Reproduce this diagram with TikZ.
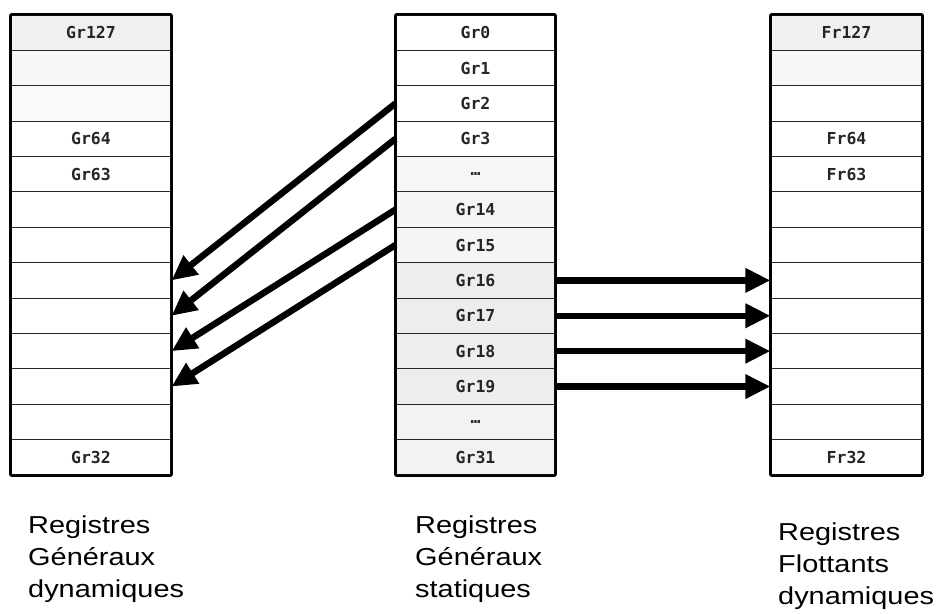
\documentclass[tikz,border=0pt]{standalone}
\usepackage{fontspec}
\setmainfont{Liberation Sans}
\newfontfamily\cellfont{DejaVu Sans Mono}
\newfontfamily\labfont[FakeStretch=1.18]{Liberation Sans}
\usetikzlibrary{arrows.meta}
\begin{document}
\begin{tikzpicture}[x=1pt,y=-1pt,
  cell/.style={draw=black!85, line width=1.1pt, minimum height=35.4pt, inner sep=0pt,
    font=\cellfont\bfseries\fontsize{16.5}{16.5}\selectfont, text=black!85},
  lab/.style={anchor=base west, inner sep=0pt, font=\labfont\fontsize{24.5}{24.5}\selectfont},
  bigarrow/.style={line width=6.5pt, -{Triangle[length=25pt,width=23pt]}},
  frame/.style={draw=black, line width=2.6pt, rounded corners=1pt}]
\useasboundingbox (0,0) rectangle (941,613);
\def\h{35.385}
% left column
\foreach \t/\f [count=\i] in {Gr127/gray!12,{}/gray!6,{}/gray!5,Gr64/white,Gr63/white,{}/white,{}/white,{}/white,{}/white,{}/white,{}/white,{}/white,Gr32/white}{
  \node[cell, minimum width=160pt, fill=\f] (L\i) at (91,{15+(\i-0.5)*\h}) {\t};
}
% middle column
\foreach \t/\f [count=\i] in {Gr0/white,Gr1/white,Gr2/white,Gr3/white,{…}/gray!6,Gr14/gray!8,Gr15/gray!8,Gr16/gray!14,Gr17/gray!14,Gr18/gray!14,Gr19/gray!14,{…}/gray!10,Gr31/gray!10}{
  \node[cell, minimum width=159pt, fill=\f] (M\i) at (475.5,{15+(\i-0.5)*\h}) {\t};
}
% right column
\foreach \t/\f [count=\i] in {Fr127/gray!12,{}/gray!6,{}/white,Fr64/white,Fr63/white,{}/white,{}/white,{}/white,{}/white,{}/white,{}/white,{}/white,Fr32/white}{
  \node[cell, minimum width=151pt, fill=\f] (R\i) at (846.5,{15+(\i-0.5)*\h}) {\t};
}
\draw[frame] (L1.north west) rectangle (L13.south east);
\draw[frame] (M1.north west) rectangle (M13.south east);
\draw[frame] (R1.north west) rectangle (R13.south east);
% arrows to the left
\draw[bigarrow] (M3.west) -- (L8.east);
\draw[bigarrow] (M4.west) -- (L9.east);
\draw[bigarrow] (M6.west) -- (L10.east);
\draw[bigarrow] (M7.west) -- (L11.east);
% arrows to the right
\draw[bigarrow] (M8.east) -- (R8.west);
\draw[bigarrow] (M9.east) -- (R9.west);
\draw[bigarrow] (M10.east) -- (R10.west);
\draw[bigarrow] (M11.east) -- (R11.west);
% labels
\node[lab] (la1) at (28,533) {Registres};
\node[lab] (la2) at (28,565) {Généraux};
\node[lab] (la3) at (28,597) {dynamiques};
\node[lab] (lb1) at (415,533) {Registres};
\node[lab] (lb2) at (415,565) {Généraux};
\node[lab] (lb3) at (415,597) {statiques};
\node[lab] (lc1) at (778,540) {Registres};
\node[lab] (lc2) at (778,572) {Flottants};
\node[lab] (lc3) at (778,604) {dynamiques};
\end{tikzpicture}
\end{document}
